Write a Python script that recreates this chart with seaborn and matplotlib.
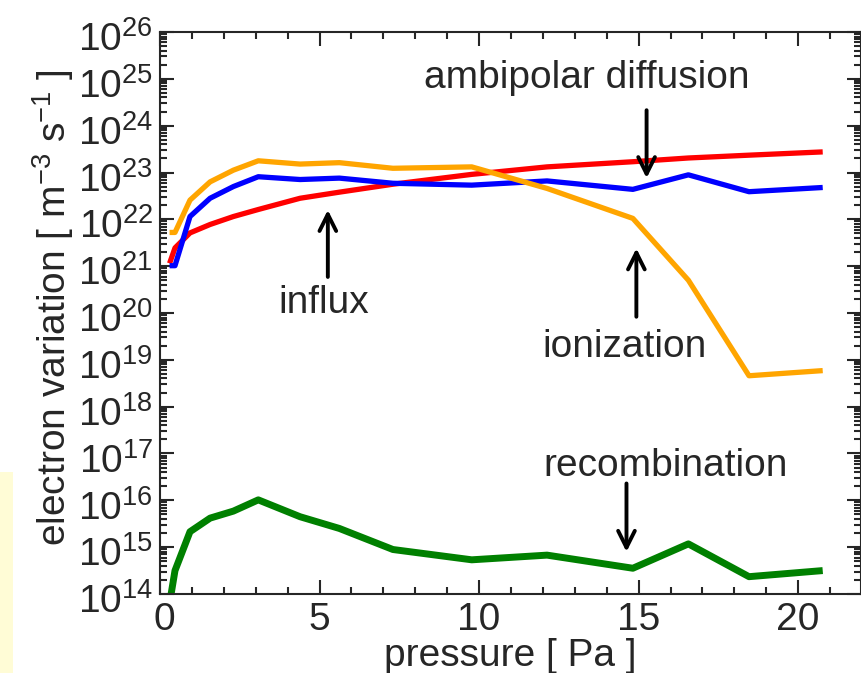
import matplotlib
matplotlib.use("Agg")
import matplotlib.pyplot as plt
import matplotlib.ticker as mticker
import matplotlib.transforms as mtransforms
from matplotlib.patches import Rectangle
import numpy as np
import pandas as pd
import seaborn as sns

# pressure grid [Pa]
pressure = [0.3, 0.47, 0.94, 1.57, 2.3, 3.08, 4.39, 5.62, 7.3, 9.77,
            12.13, 14.82, 16.56, 18.46, 20.77]

# log10 of electron variation [m^-3 s^-1]
log_influx = [21.06, 21.39, 21.71, 21.89, 22.06, 22.21, 22.45, 22.58, 22.75, 22.96,
              23.12, 23.23, 23.31, 23.37, 23.44]
log_ambipolar = [21.01, 21.01, 22.06, 22.45, 22.70, 22.91, 22.85, 22.88, 22.77, 22.73,
                 22.82, 22.64, 22.95, 22.59, 22.68]
log_ionization = [21.72, 21.72, 22.41, 22.80, 23.05, 23.25, 23.18, 23.21, 23.09, 23.12,
                  22.66, 22.02, 20.70, 18.66, 18.77]
log_recombination = [13.80, 14.50, 15.33, 15.62, 15.77, 16.01, 15.65, 15.40, 14.95, 14.73,
                     14.83, 14.55, 15.07, 14.37, 14.50]

series_names = ["influx", "ambipolar diffusion", "ionization", "recombination"]
series_colors = ["#FF0000", "#0000FF", "#FFA500", "#008000"]
series_widths = [3.8, 3.8, 3.8, 5.0]

frames = []
for name, vals in zip(series_names,
                      [log_influx, log_ambipolar, log_ionization, log_recombination]):
    frames.append(pd.DataFrame({"pressure": pressure,
                                "rate": np.power(10.0, vals),
                                "process": name}))
df = pd.concat(frames, ignore_index=True)

sns.set_style("ticks")
plt.rcParams["font.family"] = ["Liberation Sans", "DejaVu Sans"]
plt.rcParams["mathtext.default"] = "regular"

fig = plt.figure(figsize=(8.61, 6.73), dpi=100)
ax = fig.add_axes([160 / 861, 1 - 594 / 673, 701 / 861, 562 / 673])

# faint yellow patch at lower left of the page
fig.patches.append(Rectangle((0, 0), 13 / 861, 201 / 673, transform=fig.transFigure,
                             facecolor="#FFFCD6", edgecolor="none", zorder=-1))

for name, color, lw in zip(series_names, series_colors, series_widths):
    sns.lineplot(data=df[df["process"] == name], x="pressure", y="rate",
                 color=color, linewidth=lw, sort=False, estimator=None,
                 ax=ax, legend=False, solid_capstyle="butt")

ax.set_yscale("log")
ax.set_xlim(0, 21.97)
ax.set_ylim(1e14, 1e26)

ax.xaxis.set_major_locator(mticker.MultipleLocator(5))
ax.xaxis.set_minor_locator(mticker.MultipleLocator(1))
ax.yaxis.set_major_locator(mticker.FixedLocator(10.0 ** np.arange(14, 27)))
ax.yaxis.set_minor_locator(mticker.LogLocator(base=10, subs=np.arange(2, 10), numticks=200))
ax.yaxis.set_minor_formatter(mticker.NullFormatter())
ax.yaxis.set_major_formatter(mticker.FuncFormatter(
    lambda v, _: f"$10^{{{int(round(np.log10(v)))}}}$"))

ax.tick_params(which="both", direction="in", top=True, right=True, width=1.5,
               labelsize=28)
ax.tick_params(which="major", length=10)
ax.tick_params(which="minor", length=5)
ax.tick_params(axis="x", pad=6)
ax.tick_params(axis="y", pad=5)
for sp in ax.spines.values():
    sp.set_linewidth(1.5)

ax.set_xlabel("pressure [ Pa ]", fontsize=28, labelpad=0)
ax.set_ylabel("electron variation [ m$^{-3}$ s$^{-1}$ ]", fontsize=28)
ax.yaxis.set_label_coords(-0.12, 0.51)

# labels with arrows: text, text x, text baseline (log10), arrow x, arrow from/to (log10)
labels = [
    ("ambipolar diffusion", 13.39, 24.80, 15.25, 24.33, 22.88),
    ("influx", 5.14, 20.00, 5.26, 20.77, 22.20),
    ("ionization", 14.55, 19.05, 14.93, 19.92, 21.38),
    ("recombination", 15.84, 16.53, 14.62, 16.36, 14.90),
]
for text, tx, ty, ax_x, y_from, y_to in labels:
    ax.text(tx, 10 ** ty, text, fontsize=28, ha="center", va="baseline")
    ax.annotate("", xy=(ax_x, 10 ** y_to), xytext=(ax_x, 10 ** y_from),
                arrowprops=dict(arrowstyle="->", lw=2.8, color="black",
                                mutation_scale=30, shrinkA=0, shrinkB=0))

# y tick labels sit a little below their ticks in the original
shift = mtransforms.ScaledTranslation(0, -3 / 72, fig.dpi_scale_trans)
for lbl in ax.get_yticklabels():
    lbl.set_transform(lbl.get_transform() + shift)

# the "0" on the x axis sits slightly right of its tick
nudge = mtransforms.ScaledTranslation(3 / 72, 0, fig.dpi_scale_trans)
for lbl in ax.get_xticklabels():
    if lbl.get_position()[0] == 0:
        lbl.set_transform(lbl.get_transform() + nudge)

ax.set_facecolor("white")
fig.savefig("out.png", dpi=100)
plt.close(fig)
